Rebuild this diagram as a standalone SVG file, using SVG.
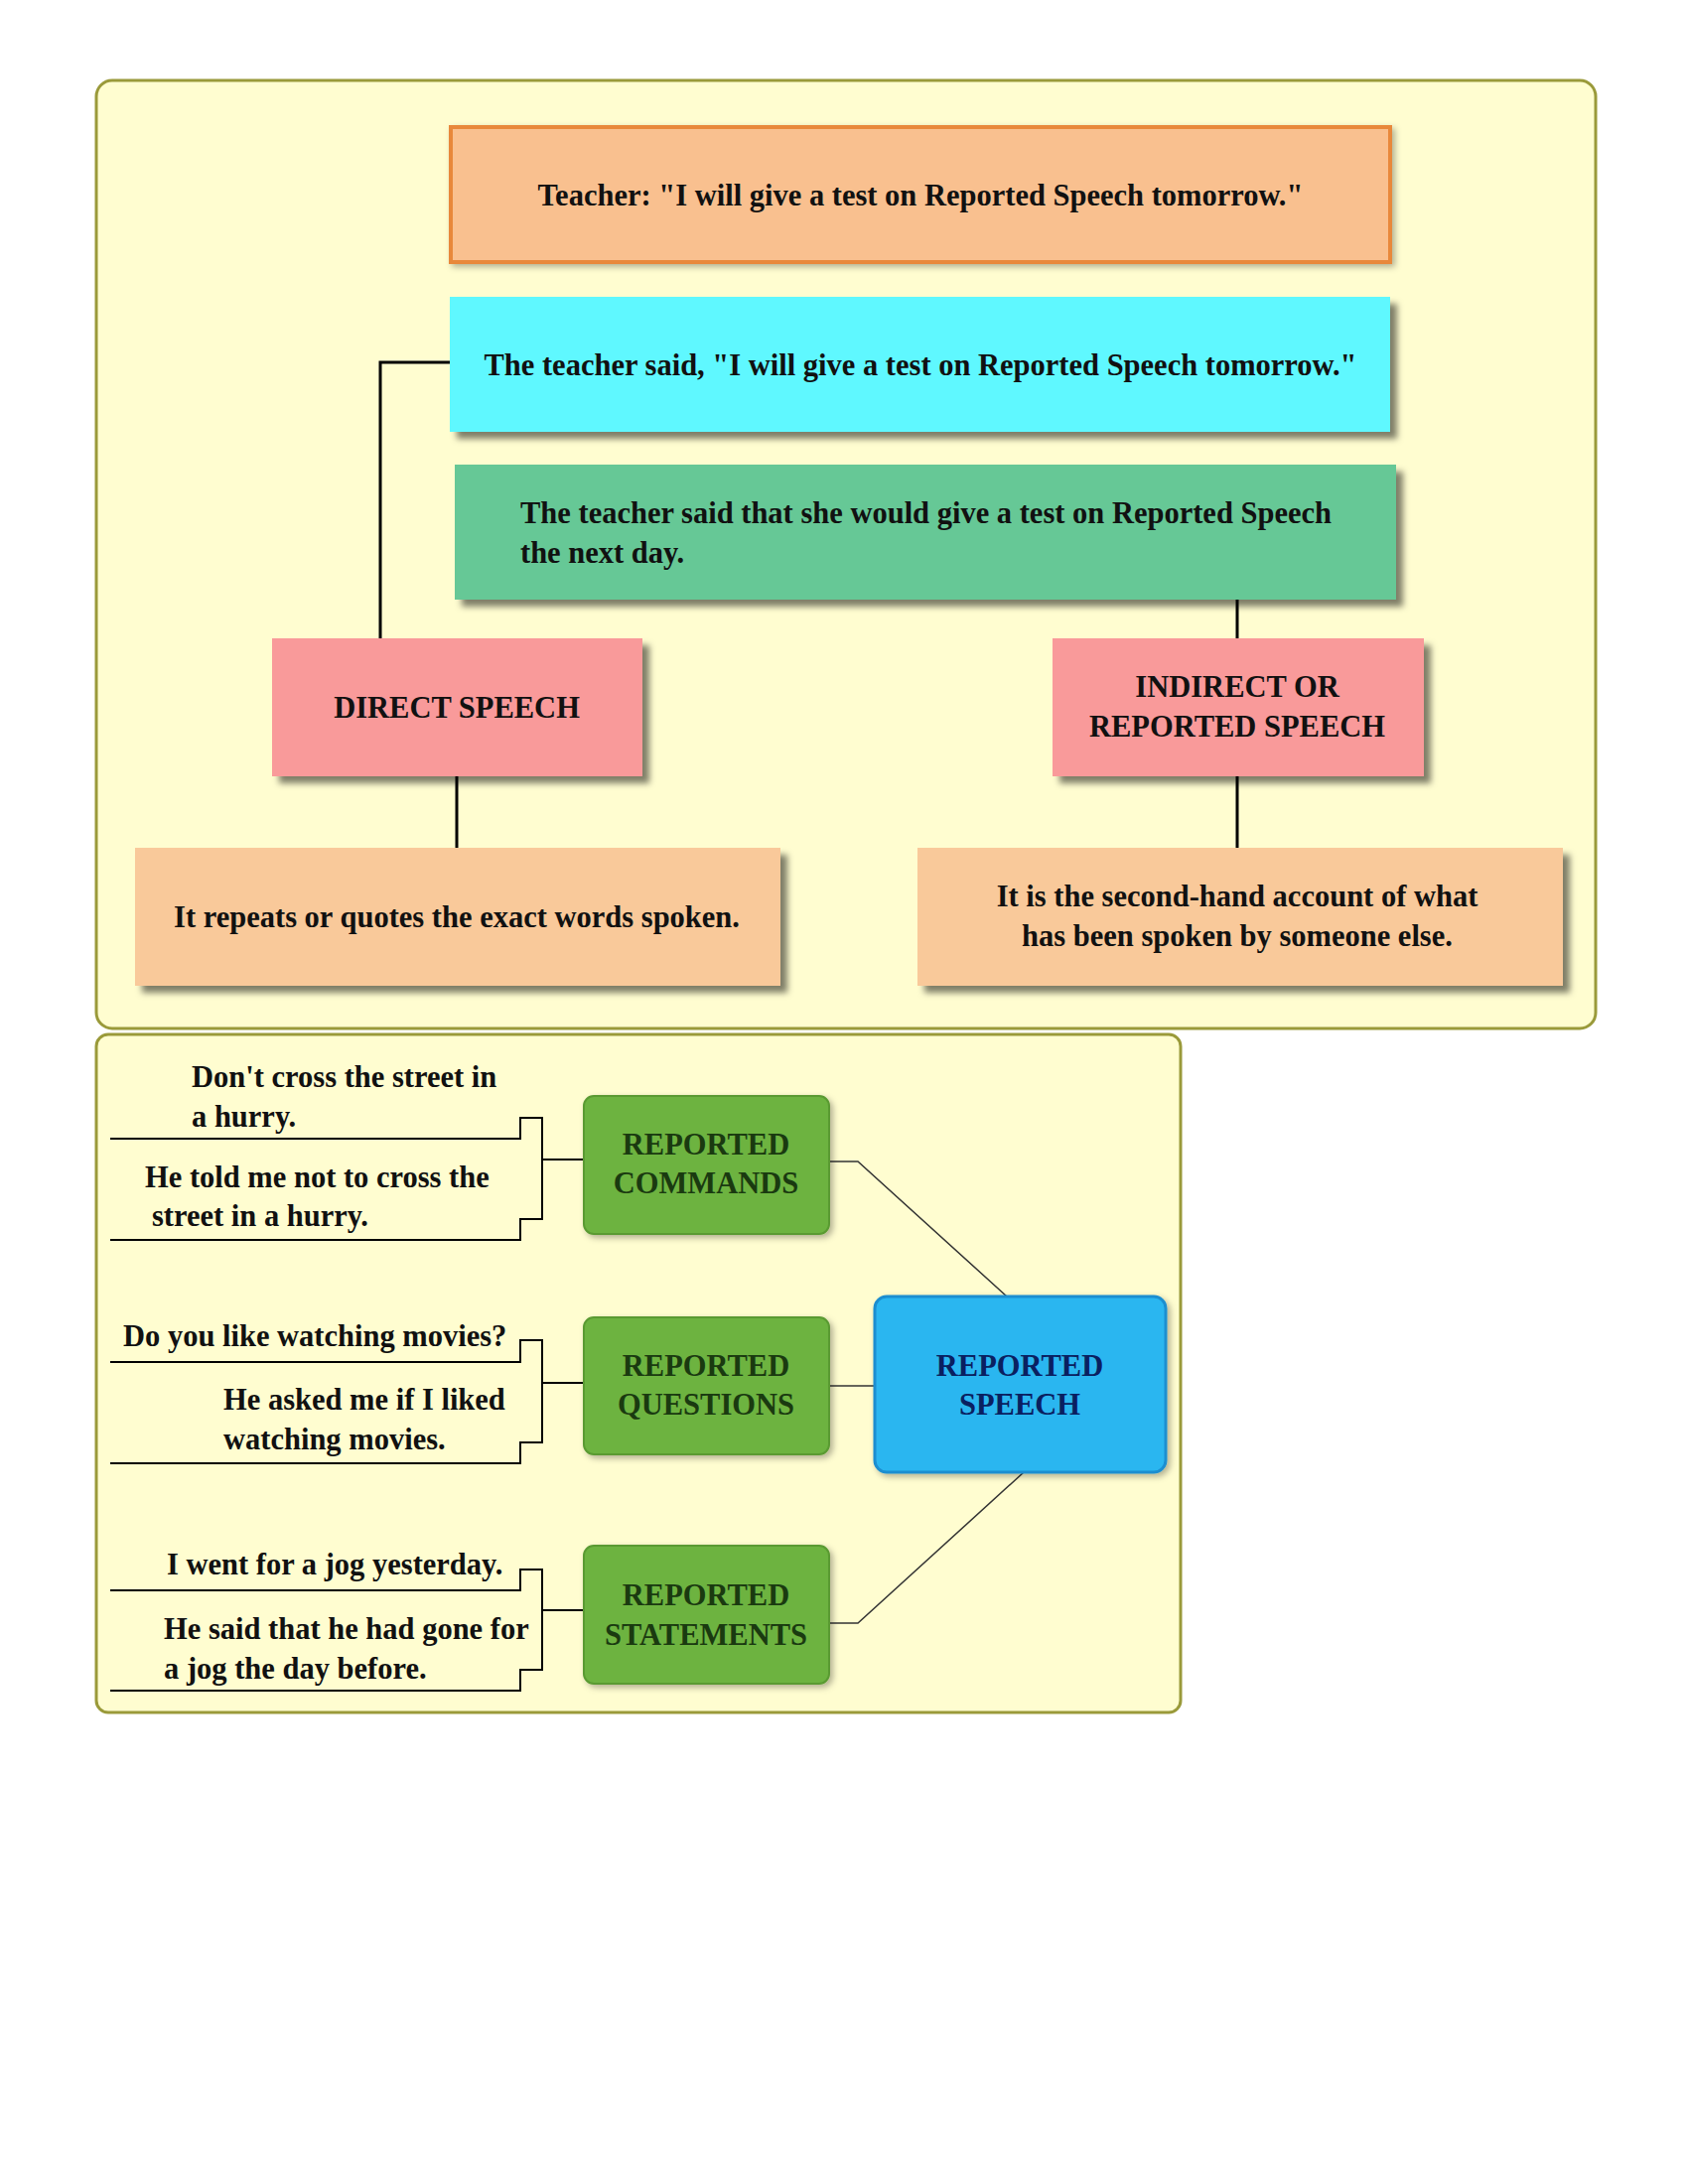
<svg xmlns="http://www.w3.org/2000/svg" width="1700" height="2200" viewBox="0 0 1700 2200">
<style>
text{font-family:"Liberation Serif","Times New Roman",serif;font-weight:bold;font-size:30.5px;fill:#111}
.c{text-anchor:middle}
.panel{fill:#fffdd0;stroke:#9a9a3a;stroke-width:3}
.ln{fill:none;stroke:#000;stroke-width:3}
.tl{fill:none;stroke:#333;stroke-width:1.5}
.g{fill:#6db33f;stroke:#5a9a32;stroke-width:2}
.gt{fill:#1a3a10}
</style>
<defs>
<filter id="sh" x="-10%" y="-10%" width="130%" height="140%"><feDropShadow dx="7" dy="7" stdDeviation="3" flood-color="#000" flood-opacity="0.5"/></filter>
<filter id="sh2" x="-10%" y="-10%" width="130%" height="140%"><feDropShadow dx="3" dy="3" stdDeviation="3" flood-color="#000" flood-opacity="0.3"/></filter>
</defs>
<rect class="panel" x="97" y="81" width="1510" height="955" rx="16"/>
<rect class="panel" x="97" y="1042" width="1092" height="683" rx="12"/>
<g id="connectors">
<path class="ln" d="M453 365H383V643"/>
<path class="ln" d="M1246 604V643"/>
<path class="ln" d="M460 782V854"/>
<path class="ln" d="M1246 782V854"/>
<path class="tl" d="M801 1170H864L1014 1306"/>
<path class="tl" d="M835 1396H881"/>
<path class="tl" d="M801 1635H864L1031 1483"/>
<path class="ln" style="stroke-width:2" d="M111 1147H524V1126H546V1228H524V1249H111M546 1168H588"/>
<path class="ln" style="stroke-width:2" d="M111 1372H524V1350H546V1453H524V1474H111M546 1393H588"/>
<path class="ln" style="stroke-width:2" d="M111 1602H524V1581H546V1682H524V1703H111M546 1622H588"/>
</g>
<g id="teacher"><rect x="454" y="128" width="946" height="136" fill="#f9c08f" stroke="#e8883a" stroke-width="4" filter="url(#sh2)"/><text class="c" x="927" y="207">Teacher: "I will give a test on Reported Speech tomorrow."</text></g>
<g id="direct-quote"><rect x="453" y="299" width="947" height="136" fill="#5ff8ff" filter="url(#sh)"/><text class="c" x="927" y="378">The teacher said, "I will give a test on Reported Speech tomorrow."</text></g>
<g id="indirect-quote"><rect x="458" y="468" width="948" height="136" fill="#66c896" filter="url(#sh)"/><text x="524" y="527">The teacher said that she would give a test on Reported Speech</text><text x="524" y="567">the next day.</text></g>
<g id="direct"><rect x="274" y="643" width="373" height="139" fill="#f99a9a" filter="url(#sh)"/><text class="c" x="460" y="723">DIRECT SPEECH</text></g>
<g id="indirect"><rect x="1060" y="643" width="374" height="139" fill="#f99a9a" filter="url(#sh)"/><text class="c" x="1246" y="702">INDIRECT OR</text><text class="c" x="1246" y="742">REPORTED SPEECH</text></g>
<g id="direct-def"><rect x="136" y="854" width="650" height="139" fill="#f9c99a" filter="url(#sh)"/><text class="c" x="460" y="934">It repeats or quotes the exact words spoken.</text></g>
<g id="indirect-def"><rect x="924" y="854" width="650" height="139" fill="#f9c99a" filter="url(#sh)"/><text class="c" x="1246" y="913">It is the second-hand account of what</text><text class="c" x="1246" y="953">has been spoken by someone else.</text></g>
<g id="commands"><rect class="g" x="588" y="1104" width="247" height="139" rx="10" filter="url(#sh2)"/><text class="c gt" x="711" y="1163">REPORTED</text><text class="c gt" x="711" y="1202">COMMANDS</text></g>
<g id="questions"><rect class="g" x="588" y="1327" width="247" height="138" rx="10" filter="url(#sh2)"/><text class="c gt" x="711" y="1386">REPORTED</text><text class="c gt" x="711" y="1425">QUESTIONS</text></g>
<g id="statements"><rect class="g" x="588" y="1557" width="247" height="139" rx="10" filter="url(#sh2)"/><text class="c gt" x="711" y="1617">REPORTED</text><text class="c gt" x="711" y="1657">STATEMENTS</text></g>
<g id="reported-speech"><rect x="881" y="1306" width="293" height="177" rx="12" fill="#2ab6f0" stroke="#1a8ed0" stroke-width="3" filter="url(#sh2)"/><text class="c" x="1027" y="1386" style="fill:#0a2060">REPORTED</text><text class="c" x="1027" y="1425" style="fill:#0a2060">SPEECH</text></g>
<g id="examples">
<text x="193" y="1095">Don't cross the street in</text><text x="193" y="1135">a hurry.</text>
<text x="146" y="1196">He told me not to cross the</text><text x="153" y="1235">street in a hurry.</text>
<text x="124" y="1356">Do you like watching movies?</text>
<text x="225" y="1420">He asked me if I liked</text><text x="225" y="1460">watching movies.</text>
<text x="168" y="1586">I went for a jog yesterday.</text>
<text x="165" y="1651">He said that he had gone for</text><text x="165" y="1691">a jog the day before.</text>
</g>
</svg>
